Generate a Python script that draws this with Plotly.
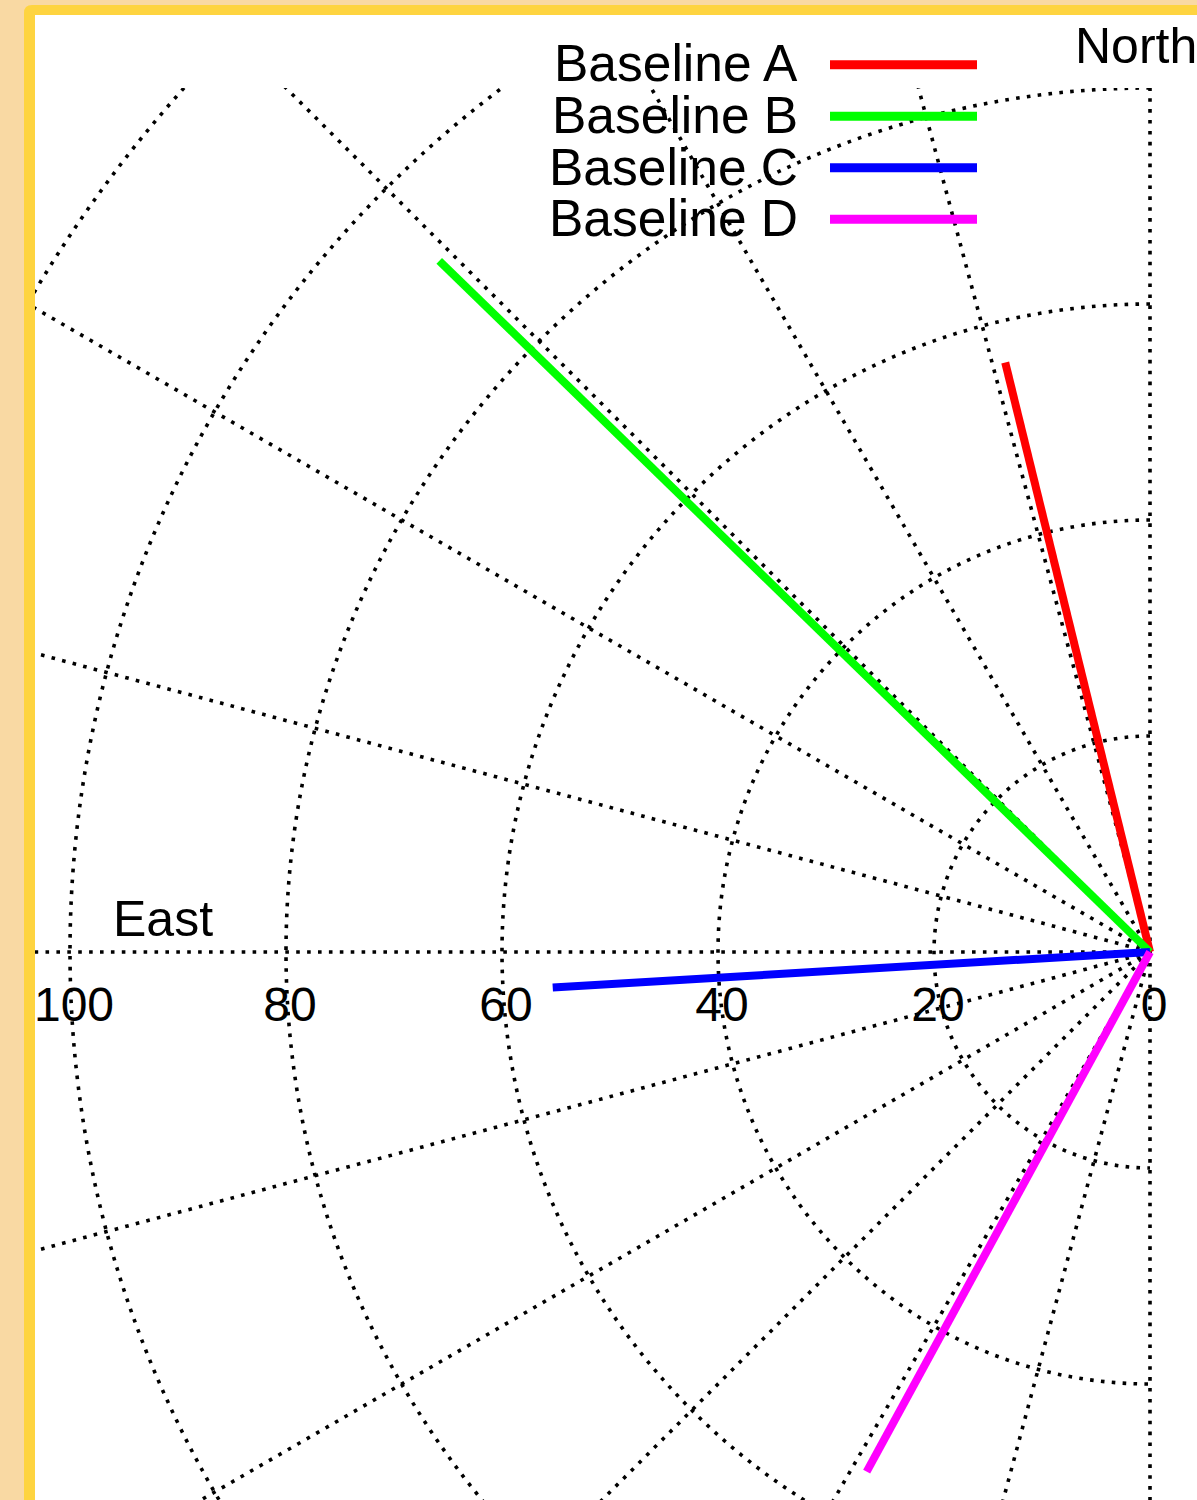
import numpy as np
import plotly.graph_objects as go

# ---------------- data ----------------
series_names = ["Baseline A", "Baseline B", "Baseline C", "Baseline D"]
series_colors = ["#FF0000", "#00FF00", "#0000FF", "#FF00FF"]
series_theta = [13.8, 45.8, 93.4, 151.4]    # degrees, measured from North toward East
series_r = [56.2, 91.8, 55.4, 54.8]         # radial length of each baseline
radial_ticks = [0, 20, 40, 60, 80, 100]
radial_grid = [20, 40, 60, 80, 100, 120]
angular_grid = list(range(0, 181, 15))
direction_labels = ["North", "East"]

# ---------------- geometry (pixels) ----------------
W, H = 1197, 1500
L, T = 35, 88                 # plot-area left / top
CX, CY = 1150, 952            # pole position on the page
S = 10.8                      # pixels per radial unit
R_OUT = 140

xr = [(L - CX) / S, (W - CX) / S]
yr = [(CY - H) / S, (CY - T) / S]


def px_x(p):
    return (p - L) / (W - L)


def px_y(p):
    return 1 - (p - T) / (H - T)


def to_xy(r, theta_deg):
    t = np.radians(np.asarray(theta_deg, dtype=float))
    r = np.asarray(r, dtype=float)
    return -r * np.sin(t), r * np.cos(t)


FONT = "Liberation Sans, Arial, Helvetica, sans-serif"
DOT = dict(color="black", width=3.6, dash="3.6px,7.3px")

fig = go.Figure()

for name, col, th, r in zip(series_names, series_colors, series_theta, series_r):
    x, y = to_xy([0, r], [th, th])
    fig.add_trace(go.Scatter(x=x, y=y, mode="lines", name=name,
                             line=dict(color=col, width=8),
                             showlegend=False, hoverinfo="name"))

shapes = []
# page background / yellow frame
x0, y0 = 24, 5
rad = 8
frame_path = (f"M {px_x(x0)},{px_y(y0 + rad)} Q {px_x(x0)},{px_y(y0)} {px_x(x0 + rad)},{px_y(y0)} "
              f"L {px_x(W + 50)},{px_y(y0)} L {px_x(W + 50)},{px_y(H + 50)} L {px_x(x0)},{px_y(H + 50)} Z")
shapes.append(dict(type="path", xref="paper", yref="paper", path=frame_path,
                   fillcolor="#FED440", line=dict(width=0), layer="below"))
shapes.append(dict(type="rect", xref="paper", yref="paper",
                   x0=px_x(35), y0=px_y(15), x1=px_x(W + 50), y1=px_y(H + 50),
                   fillcolor="white", line=dict(width=0), layer="below"))

# angular grid (spokes)
for a in angular_grid:
    gx, gy = to_xy(R_OUT, a)
    shapes.append(dict(type="line", xref="x", yref="y", x0=0, y0=0,
                       x1=float(gx), y1=float(gy), line=DOT, layer="below"))

# radial grid (half circles through East)
k = 0.5523
for r in radial_grid:
    p = (f"M 0,{r} C {-k * r},{r} {-r},{k * r} {-r},0 "
         f"C {-r},{-k * r} {-k * r},{-r} 0,{-r}")
    shapes.append(dict(type="path", xref="x", yref="y", path=p, line=DOT, layer="below"))

# custom legend (line sample to the right of the label)
annotations = []
for i, (name, col) in enumerate(zip(series_names, series_colors)):
    ly = 64.7 + 51.55 * i
    shapes.append(dict(type="line", xref="paper", yref="paper",
                       x0=px_x(830), x1=px_x(977), y0=px_y(ly), y1=px_y(ly),
                       line=dict(color=col, width=9)))
    annotations.append(dict(xref="paper", yref="paper", x=px_x(800), y=px_y(63.3 + 51.65 * i),
                            text=name, showarrow=False, xanchor="right", yanchor="middle",
                            font=dict(family=FONT, size=51.5, color="black")))

annotations.append(dict(xref="paper", yref="paper", x=px_x(1073), y=px_y(45.5),
                        text=direction_labels[0], showarrow=False, xanchor="left", yanchor="middle",
                        font=dict(family=FONT, size=50, color="black")))
annotations.append(dict(xref="paper", yref="paper", x=px_x(163), y=px_y(919.5),
                        text=direction_labels[1], showarrow=False, xanchor="center", yanchor="middle",
                        font=dict(family=FONT, size=50, color="black")))

fig.update_layout(
    template="none",
    width=W, height=H,
    margin=dict(l=L, r=0, t=T, b=0, pad=0),
    paper_bgcolor="#F9D9A3",
    plot_bgcolor="white",
    showlegend=False,
    shapes=shapes,
    annotations=annotations,
    xaxis=dict(range=xr, showgrid=False, zeroline=False, showline=False,
               anchor="free", position=(0 - yr[0]) / (yr[1] - yr[0]),
               tickmode="array", tickvals=[-v for v in radial_ticks],
               ticktext=[str(v) for v in radial_ticks], ticks="",
               tickfont=dict(family=FONT, size=48, color="black"),
               ticklabelstandoff=20, ticklabelshift=4, automargin=False, fixedrange=True),
    yaxis=dict(range=yr, visible=False, showgrid=False, zeroline=False, fixedrange=True),
)

fig.write_html("out.html", config={"displayModeBar": False},
               post_script="document.body.style.margin='0';document.body.style.overflow='hidden';")
